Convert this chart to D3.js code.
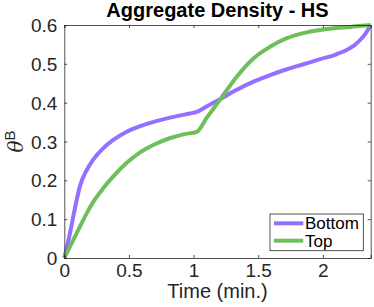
<!DOCTYPE html>
<html>
<head>
<meta charset="utf-8">
<script src="https://cdn.jsdelivr.net/npm/d3@7"></script>
<style>
  html, body { margin: 0; padding: 0; background: #fff; }
  svg { display: block; font-family: "Liberation Sans", Arial, sans-serif; }
</style>
</head>
<body>
<div id="chart"></div>
<script>
// time in minutes
const bottomT = [0, 0.044, 0.07, 0.096, 0.121, 0.173, 0.225, 0.302, 0.379, 0.483, 0.6, 0.74, 0.88, 0.97, 1.025, 1.1, 1.205, 1.334, 1.463, 1.592, 1.721, 1.85, 1.979, 2.1, 2.18, 2.24, 2.29, 2.33, 2.37];
const bottomV = [0, 0.064, 0.108, 0.15, 0.185, 0.226, 0.254, 0.283, 0.304, 0.325, 0.341, 0.355, 0.366, 0.372, 0.376, 0.39, 0.409, 0.433, 0.454, 0.471, 0.486, 0.499, 0.512, 0.524, 0.535, 0.547, 0.562, 0.578, 0.6];

const topT = [0, 0.096, 0.173, 0.225, 0.302, 0.379, 0.483, 0.586, 0.7, 0.82, 0.93, 1.025, 1.1, 1.205, 1.334, 1.463, 1.592, 1.721, 1.85, 1.979, 2.1, 2.21, 2.3, 2.37];
const topV = [0, 0.064, 0.115, 0.145, 0.18, 0.21, 0.245, 0.272, 0.293, 0.309, 0.319, 0.325, 0.36, 0.408, 0.467, 0.514, 0.544, 0.566, 0.579, 0.587, 0.592, 0.595, 0.598, 0.6];

const seriesNames = ["Bottom", "Top"];
const seriesColors = ["#9370ff", "#6fbe5c"];
const xTicks = [0, 0.5, 1, 1.5, 2];
const yTicks = [0, 0.1, 0.2, 0.3, 0.4, 0.5, 0.6];

const width = 374, height = 307;
const margin = { top: 25, right: 3.3, bottom: 49, left: 64.3 };

const svg = d3.select("#chart").append("svg")
  .attr("width", width)
  .attr("height", height)
  .attr("viewBox", [0, 0, width, height]);

const x = d3.scaleLinear().domain([0, 2.37]).range([margin.left, width - margin.right]);
const y = d3.scaleLinear().domain([0, 0.6]).range([height - margin.bottom, margin.top]);

const axisColor = "#262626";
const tickLen = 3;
const fmt = (d) => (d === 0 ? "0" : String(d));

// data lines first, frame drawn on top
const line = d3.line()
  .curve(d3.curveMonotoneX)
  .x((d) => x(d[0]))
  .y((d) => y(d[1]));

const series = [
  d3.zip(bottomT, bottomV),
  d3.zip(topT, topV),
];

svg.append("g")
  .attr("fill", "none")
  .attr("stroke-width", 4)
  .attr("stroke-linejoin", "round")
  .selectAll("path")
  .data(series)
  .join("path")
  .attr("stroke", (_, i) => seriesColors[i])
  .attr("d", line);

// axes: bottom/left labelled, top/right just ticks
const xAxis = d3.axisBottom(x).tickValues(xTicks).tickSize(-tickLen).tickPadding(6).tickFormat(fmt);
const yAxis = d3.axisLeft(y).tickValues(yTicks).tickSize(-tickLen).tickPadding(7).tickFormat(fmt);

const gx = svg.append("g")
  .attr("transform", `translate(0,${height - margin.bottom})`)
  .call(xAxis);
const gy = svg.append("g")
  .attr("transform", `translate(${margin.left},0)`)
  .call(yAxis);
const gxTop = svg.append("g")
  .attr("transform", `translate(0,${margin.top})`)
  .call(d3.axisTop(x).tickValues(xTicks).tickSize(-tickLen).tickFormat(""));
const gyRight = svg.append("g")
  .attr("transform", `translate(${width - margin.right},0)`)
  .call(d3.axisRight(y).tickValues(yTicks).tickSize(-tickLen).tickFormat(""));

for (const g of [gx, gy, gxTop, gyRight]) {
  g.select(".domain").attr("stroke", axisColor).attr("stroke-width", 0.8);
  g.selectAll(".tick line").attr("stroke", axisColor).attr("stroke-width", 0.8);
  g.selectAll(".tick text")
    .attr("fill", axisColor)
    .style("font-size", "19px")
    .style("font-family", "Liberation Sans, Arial, sans-serif");
}
gy.selectAll(".tick text").attr("dy", "0.35em");

// title
svg.append("text")
  .attr("x", (x.range()[0] + x.range()[1]) / 2)
  .attr("y", 17)
  .attr("text-anchor", "middle")
  .attr("fill", "#000")
  .style("font-size", "20px")
  .style("font-weight", "bold")
  .text("Aggregate Density - HS");

// x label
svg.append("text")
  .attr("x", (x.range()[0] + x.range()[1]) / 2)
  .attr("y", 298)
  .attr("text-anchor", "middle")
  .attr("fill", axisColor)
  .style("font-size", "20px")
  .text("Time (min.)");

// y label: theta^B
const yl = svg.append("text")
  .attr("transform", `translate(23,${(y.range()[0] + y.range()[1]) / 2}) rotate(-90)`)
  .attr("text-anchor", "middle")
  .attr("fill", axisColor)
  .style("font-size", "20px");
yl.append("tspan").style("font-style", "italic").style("font-family", "DejaVu Serif, serif").text("θ");
yl.append("tspan").attr("dy", -8).style("font-size", "15px").text("B");

// legend
const legend = svg.append("g").attr("transform", "translate(270,214)");
legend.append("rect")
  .attr("width", 93.3)
  .attr("height", 36.7)
  .attr("fill", "#fff")
  .attr("stroke", axisColor)
  .attr("stroke-width", 0.8);
const item = legend.selectAll("g.item")
  .data(seriesNames)
  .join("g")
  .attr("class", "item")
  .attr("transform", (_, i) => `translate(0,${9.3 + i * 17.4})`);
item.append("line")
  .attr("x1", 4).attr("x2", 33.3)
  .attr("stroke", (_, i) => seriesColors[i])
  .attr("stroke-width", 4);
item.append("text")
  .attr("x", 35)
  .attr("y", 6)
  .attr("fill", "#000")
  .style("font-size", "17px")
  .text((d) => d);
</script>
</body>
</html>
